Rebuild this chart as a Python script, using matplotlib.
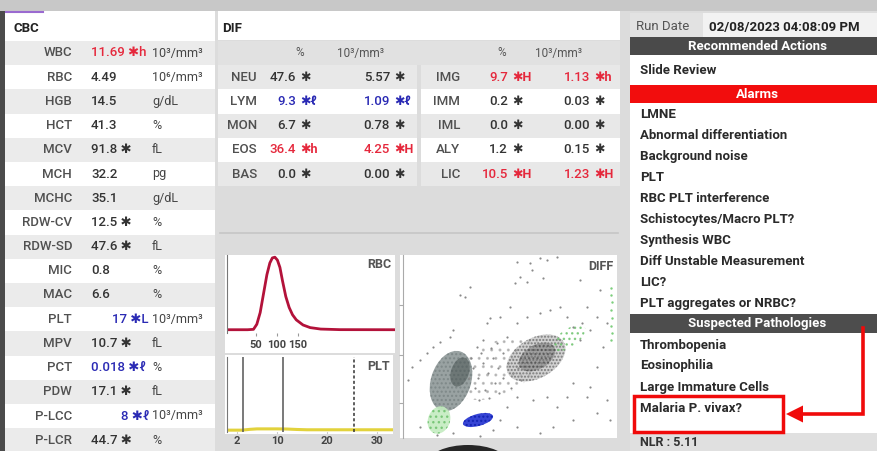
import matplotlib
matplotlib.use("Agg")
import matplotlib.pyplot as plt
from matplotlib.patches import Rectangle, Ellipse, Polygon

plt.rcParams['font.family'] = ['Roboto', 'DejaVu Sans']
plt.rcParams['hatch.linewidth'] = 1.0

# ---------------- data ----------------
cbc_labels = ["WBC", "RBC", "HGB", "HCT", "MCV", "MCH", "MCHC", "RDW-CV", "RDW-SD",
              "MIC", "MAC", "PLT", "MPV", "PCT", "PDW", "P-LCC", "P-LCR"]
cbc_values = ["11.69", "4.49", "14.5", "41.3", "91.8", "32.2", "35.1", "12.5", "47.6",
              "0.8", "6.6", "17", "10.7", "0.018", "17.1", "8", "44.7"]
cbc_flags = ["✱h", "", "", "", "✱", "", "", "✱", "✱",
             "", "", "✱L", "✱", "✱ℓ", "✱", "✱ℓ", "✱"]
cbc_units = ["10³/mm³", "10⁶/mm³", "g/dL", "%", "fL", "pg", "g/dL", "%", "fL",
             "%", "%", "10³/mm³", "fL", "%", "fL", "10³/mm³", "%"]

dif_left_labels = ["NEU", "LYM", "MON", "EOS", "BAS"]
dif_left_pct = ["47.6", "9.3", "6.7", "36.4", "0.0"]
dif_left_pct_flags = ["✱", "✱ℓ", "✱", "✱h", "✱"]
dif_left_abs = ["5.57", "1.09", "0.78", "4.25", "0.00"]
dif_left_abs_flags = ["✱", "✱ℓ", "✱", "✱H", "✱"]

dif_right_labels = ["IMG", "IMM", "IML", "ALY", "LIC"]
dif_right_pct = ["9.7", "0.2", "0.0", "1.2", "10.5"]
dif_right_pct_flags = ["✱H", "✱", "✱", "✱", "✱H"]
dif_right_abs = ["1.13", "0.03", "0.00", "0.15", "1.23"]
dif_right_abs_flags = ["✱h", "✱", "✱", "✱", "✱H"]

run_date = "02/08/2023 04:08:09 PM"
recommended_actions = ["Slide Review"]
alarms = ["LMNE", "Abnormal differentiation", "Background noise", "PLT",
          "RBC PLT interference", "Schistocytes/Macro PLT?", "Synthesis WBC",
          "Diff Unstable Measurement", "LIC?", "PLT aggregates or NRBC?"]
pathologies = ["Thrombopenia", "Eosinophilia", "Large Immature Cells", "Malaria P. vivax?"]
highlighted = "Malaria P. vivax?"
nlr_text = "NLR : 5.11"

# RBC histogram (fL vs relative count)
rbc_x = [-19, 30, 44, 52, 60, 68, 76, 83, 89, 95, 101, 107, 113, 121, 129, 137,
         146, 162, 179, 204, 250, 381]
rbc_y = [0.5, 0.5, 1, 8, 24, 50, 76, 92, 99, 100, 96, 86, 68, 46, 31, 21,
         14, 7, 3.4, 1.4, 0.6, 0.5]
rbc_ticks = [50, 100, 150]

# PLT histogram (fL vs relative count)
plt_x = [0, 3, 4.6, 6, 8, 10, 12, 14, 16, 20, 25, 30, 33.2]
plt_y = [1.5, 1.5, 2.6, 3.2, 3.2, 3.2, 3.0, 2.4, 2.0, 2.0, 2.0, 2.0, 2.0]
plt_solid_markers = [3.2, 11.2]
plt_dashed_marker = 25.4
plt_ticks = [2, 10, 20, 30]

# DIFF scattergram: dense populations (centre x, centre y, width, height, angle)
pop_names = ["band", "lymph", "lymph_core", "neutro", "neutro_core", "eos", "green_low", "green_high"]
pop_cx = [96, 48, 57, 133, 134, 75, 36, 166]
pop_cy = [70, 57, 66, 80, 81, 18, 18, 100]
pop_w = [95, 62, 30, 64, 40, 31, 28, 38]
pop_h = [52, 40, 18, 40, 24, 12, 22, 18]
pop_ang = [28, 72, 72, 30, 30, 15, 70, 35]
# sparse events
sparse_x = [114, 127, 137, 144, 154, 129, 117, 112, 124, 140, 67, 62, 57, 107, 97, 84, 87,
            47, 50, 30, 37, 24, 17, 9, 5, 177, 197, 184, 194, 204, 200, 194, 187, 184, 170,
            164, 154, 144, 130, 114, 104, 97, 90, 114, 137, 150, 170, 194, 204, 207, 77, 50,
            34, 17, 74, 80, 94, 104, 114, 124, 137, 147, 157, 164, 170, 179, 187, 177,
            70, 75, 80, 85, 90, 95, 100, 72, 82, 92, 100, 105, 88, 78, 68, 110, 96, 86, 76,
            66, 108, 115, 118, 112, 120]
sparse_y = [176, 175, 180, 178, 181, 168, 161, 155, 156, 160, 151, 141, 143, 131, 121, 115,
            120, 101, 108, 91, 96, 85, 78, 71, 58, 158, 148, 131, 121, 115, 91, 71, 51, 41, 55,
            41, 31, 41, 38, 41, 31, 18, 8, 11, 5, 11, 18, 25, 38, 18, 2, 5,
            3, 11, 91, 98, 95, 101, 115, 121, 125, 128, 131, 121, 111, 115, 108, 98,
            70, 60, 75, 65, 80, 70, 60, 50, 48, 55, 85, 75, 90, 85, 80, 65, 45, 40, 38,
            60, 50, 70, 58, 88, 80]
green_strip_x = [208, 208, 209, 208, 209, 208, 209, 208]
green_strip_y = [150, 143, 136, 128, 120, 112, 105, 98]

# ---------------- figure ----------------
W, H = 877, 451
fig = plt.figure(figsize=(W / 100, H / 100), dpi=100)
bg = fig.add_axes([0, 0, 1, 1])
bg.set_xlim(0, W)
bg.set_ylim(H, 0)
bg.axis('off')


def rect(x0, y0, x1, y1, color, z=0, **kw):
    bg.add_patch(Rectangle((x0, y0), x1 - x0, y1 - y0, facecolor=color,
                           edgecolor='none', zorder=z, **kw))


def flag_color(flag, default='#333333'):
    if 'h' in flag or 'H' in flag:
        return '#e5283c'
    if 'ℓ' in flag or 'L' in flag:
        return '#2a2ab4'
    return default


FS = 9.5
LABEL_C = '#505050'

# frame
rect(0, 0, W, H, '#dcdcdc')
rect(0, 0, W, 11, '#c8c8c8')
rect(0, 11, 5, H, '#4b4b4b')

# ---------------- CBC ----------------
ROW0, PITCH = 53, 24.2
rect(5, 11, 215, H, 'white', 1)
bg.plot([6, 43], [12, 12], color='#9a6ad0', lw=1.5, zorder=3)
bg.text(14, 28, "CBC", fontsize=FS, fontweight='bold', color='#222222', va='center', zorder=3)
for i, (lab, val, fl, un) in enumerate(zip(cbc_labels, cbc_values, cbc_flags, cbc_units)):
    yc = ROW0 + i * PITCH
    if i % 2 == 0:
        rect(5, yc - PITCH / 2, 215, yc + PITCH / 2, '#ebebeb', 1)
    bg.text(72, yc, lab, ha='right', va='center', fontsize=FS, fontweight='medium',
            color=LABEL_C, zorder=3)
    s = val + (" " + fl if fl else "")
    col = flag_color(fl)
    if '.' in val:
        bg.text(91, yc, s, ha='left', va='center', fontsize=FS, color=col,
                fontweight='medium', zorder=3)
    else:
        bg.text(149, yc, s, ha='right', va='center', fontsize=FS, color=col,
                fontweight='medium', zorder=3)
    bg.text(152, yc, un, ha='left', va='center', fontsize=FS - 0.5, color='#444444', zorder=3)

# ---------------- DIF ----------------
rect(218, 11, 620, 40, 'white', 1)
bg.text(222, 28, "DIF", fontsize=FS, fontweight='bold', color='#222222', va='center', zorder=3)
rect(218, 41, 620, 65, '#e1e1e1', 1)
for xc_pct, xc_abs in ((300, 360), (502, 558)):
    bg.text(xc_pct, ROW0, "%", ha='center', va='center', fontsize=FS - 1, color='#555555', zorder=3)
    bg.text(xc_abs, ROW0, "10³/mm³", ha='center', va='center', fontsize=FS - 1, color='#555555', zorder=3)


def dif_table(x0, x1, labels, pct, pctf, ab, abf, xl, xp, xa):
    for k, (lab, p, pf, a, af) in enumerate(zip(labels, pct, pctf, ab, abf)):
        yc = ROW0 + (k + 1) * PITCH
        rect(x0, yc - PITCH / 2, x1, yc + PITCH / 2, '#e8e8e8' if k % 2 == 0 else 'white', 1)
        bg.text(xl, yc, lab, ha='right', va='center', fontsize=FS, fontweight='medium',
                color=LABEL_C, zorder=3)
        for num, fl, xn in ((p, pf, xp), (a, af, xa)):
            col = flag_color(fl)
            bg.text(xn, yc, num, ha='right', va='center', fontsize=FS, fontweight='medium',
                    color=col, zorder=3)
            bg.text(xn + 4, yc, fl, ha='left', va='center', fontsize=FS - 0.5,
                    fontweight='bold', color=col, zorder=3)


dif_table(218, 417, dif_left_labels, dif_left_pct, dif_left_pct_flags,
          dif_left_abs, dif_left_abs_flags, 257, 296, 390)
dif_table(421, 620, dif_right_labels, dif_right_pct, dif_right_pct_flags,
          dif_right_abs, dif_right_abs_flags, 460, 508, 590)
bg.plot([220, 618], [233, 233], color='#c6c6c6', lw=1.2, zorder=2)

# histogram white boxes
rect(225, 255, 395, 353, 'white', 1)
rect(225, 355, 393, 434, 'white', 1)
rect(400, 255, 617, 438, 'white', 1)

# dark obstruction at bottom
bg.add_patch(Ellipse((468, 463), 80, 36, facecolor='#262626', edgecolor='none', zorder=4))


def px_axes(x0, y0, x1, y1):
    return fig.add_axes([x0 / W, 1 - y1 / H, (x1 - x0) / W, (y1 - y0) / H])


# ---------------- RBC histogram ----------------
ax_r = px_axes(227, 255, 395, 333)
ax_r.patch.set_alpha(0)
ax_r.plot(rbc_x, rbc_y, color='#b3123a', lw=2.0, solid_joinstyle='round')
ax_r.set_xlim(-19, 381)
ax_r.set_ylim(-4, 103)
for sp in ('top', 'right', 'bottom'):
    ax_r.spines[sp].set_visible(False)
ax_r.spines['left'].set_color('#777777')
ax_r.set_yticks([])
ax_r.set_xticks(rbc_ticks)
ax_r.set_xticklabels([str(t) for t in rbc_ticks], fontsize=8, fontweight='bold', color='#444444')
ax_r.tick_params(axis='x', length=2, color='#999999', pad=3)
ax_r.text(0.98, 0.88, "RBC", transform=ax_r.transAxes, ha='right', va='center',
          fontsize=9, fontweight='bold', color='#555555')

# ---------------- PLT histogram ----------------
ax_p = px_axes(227, 357, 393, 432)
ax_p.patch.set_alpha(0)
ax_p.plot(plt_x, plt_y, color='#e2d23c', lw=2.2)
for m in plt_solid_markers:
    ax_p.axvline(m, color='#555555', lw=1.1)
ax_p.axvline(plt_dashed_marker, color='#333333', lw=1.1, ls=(0, (2, 1.5)))
ax_p.set_xlim(0, 33.2)
ax_p.set_ylim(-1, 100)
for sp in ('top', 'right', 'bottom'):
    ax_p.spines[sp].set_visible(False)
ax_p.spines['left'].set_color('#777777')
ax_p.set_yticks([])
ax_p.set_xticks(plt_ticks)
ax_p.set_xticklabels([str(t) for t in plt_ticks], fontsize=8, fontweight='bold', color='#444444')
ax_p.tick_params(axis='x', length=1, color='#999999', pad=2)
ax_p.text(0.98, 0.88, "PLT", transform=ax_p.transAxes, ha='right', va='center',
          fontsize=9, fontweight='bold', color='#555555')

# ---------------- DIFF scattergram ----------------
ax_d = px_axes(403, 255, 617, 438)
ax_d.patch.set_alpha(0)
ax_d.set_xlim(0, 214)
ax_d.set_ylim(0, 183)
pop_style = {
    "band": dict(facecolor='none', edgecolor='#9a9a9a', hatch='..', alpha=0.55),
    "lymph": dict(facecolor='#8e9898', edgecolor='#7c8686', hatch='....', alpha=0.9),
    "lymph_core": dict(facecolor='#66706f', edgecolor='#5f6a6a', hatch='....', alpha=0.85),
    "neutro": dict(facecolor='#bdbdbd', edgecolor='#5a5a5a', hatch='.....', alpha=0.7),
    "neutro_core": dict(facecolor='#777777', edgecolor='#3a3a3a', hatch='....', alpha=0.55),
    "eos": dict(facecolor='#2030d0', edgecolor='#1020b0', hatch='....', alpha=0.9),
    "green_low": dict(facecolor='#c4ecc0', edgecolor='#74c474', hatch='...', alpha=0.9),
    "green_high": dict(facecolor='none', edgecolor='#70c470', hatch='...', alpha=0.8),
}
for name, cx, cy, w, h, a in zip(pop_names, pop_cx, pop_cy, pop_w, pop_h, pop_ang):
    ax_d.add_patch(Ellipse((cx, cy), w, h, angle=a, lw=0, **pop_style[name]))
ax_d.scatter(sparse_x, sparse_y, s=2.5, color='#8a8a8a', lw=0)
ax_d.scatter(green_strip_x, green_strip_y, s=3, color='#7ccf7c', lw=0)
for sp in ('top', 'right', 'bottom'):
    ax_d.spines[sp].set_visible(False)
ax_d.spines['left'].set_color('#aaaaaa')
ax_d.set_xticks([])
ax_d.set_yticks([35, 83, 133])
ax_d.set_yticklabels([])
ax_d.tick_params(axis='y', length=3, color='#aaaaaa')
ax_d.text(0.985, 0.935, "DIFF", transform=ax_d.transAxes, ha='right', va='center',
          fontsize=9, fontweight='bold', color='#555555')

# ---------------- right panel ----------------
rect(630, 13, W, 37, '#e2e2e2', 1)
rect(703, 13, W, 37, '#f2f2f2', 1)
bg.text(636, 27, "Run Date", ha='left', va='center', fontsize=FS, color='#555555', zorder=3)
bg.text(709, 27, run_date, ha='left', va='center', fontsize=FS, fontweight='bold',
        color='#222222', zorder=3)
rect(630, 37, W, 433, 'white', 1)
rect(630, 433, W, H, '#e0e0e0', 1)

ITEM_C = '#2a2a2a'
XC = 757


def header_bar(y0, y1, label, color):
    rect(630, y0, W, y1, color, 2)
    bg.text(XC, (y0 + y1) / 2, label, ha='center', va='center', fontsize=FS,
            fontweight='bold', color='white', zorder=3)


header_bar(37, 55, "Recommended Actions", '#4a4a4a')
for j, s in enumerate(recommended_actions):
    bg.text(640, 71 + j * 20.9, s, ha='left', va='center', fontsize=FS, fontweight='bold',
            color=ITEM_C, zorder=3)
header_bar(85, 103, "Alarms", '#f20d0d')
for j, s in enumerate(alarms):
    bg.text(640, 115 + j * 20.9, s, ha='left', va='center', fontsize=FS, fontweight='bold',
            color=ITEM_C, zorder=3)
header_bar(314, 333, "Suspected Pathologies", '#4d4d4d')
hy = None
for j, s in enumerate(pathologies):
    y = 345 + j * 21
    bg.text(640, y, s, ha='left', va='center', fontsize=FS, fontweight='bold',
            color=ITEM_C, zorder=3)
    if s == highlighted:
        hy = y
bg.text(640, 436, nlr_text, ha='left', va='top', fontsize=FS - 0.5, fontweight='bold',
        color='#333333', zorder=3)

# highlight box and arrow
RED = '#f00a0a'
bg.add_patch(Rectangle((634, hy - 12), 149, 36, facecolor='none', edgecolor=RED,
                       lw=2.5, zorder=5))
bg.plot([863, 863, 800], [328, hy + 6, hy + 6], color=RED, lw=2.6, zorder=5,
        solid_joinstyle='miter')
bg.add_patch(Polygon([[786, hy + 6], [803, hy - 2.5], [803, hy + 14.5]], closed=True,
                     facecolor=RED, edgecolor='none', zorder=5))

fig.savefig("out.png", dpi=100)
